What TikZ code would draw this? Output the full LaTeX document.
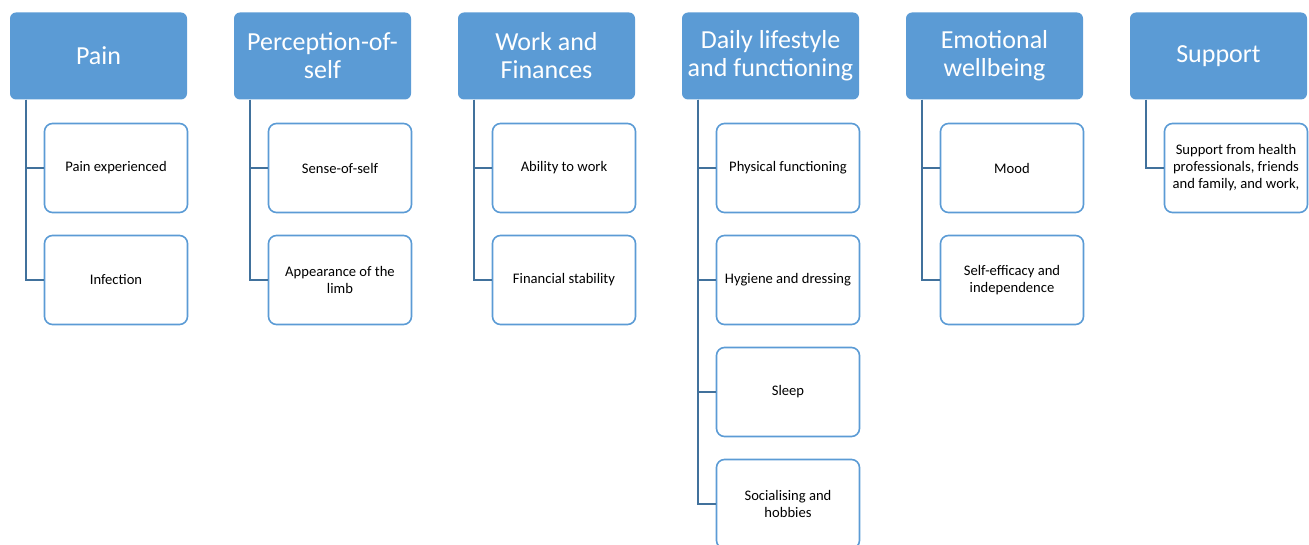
\documentclass[tikz,border=0pt]{standalone}
\usepackage{fontspec}
\setmainfont{Carlito}
\usetikzlibrary{positioning,calc}
\definecolor{hdrblue}{RGB}{91,155,213}
\definecolor{linkblue}{RGB}{65,113,156}

\begin{document}
\begin{tikzpicture}[x=1pt,y=-1pt,
    theme/.style={rectangle, rounded corners=6pt, fill=hdrblue, text=white, minimum width=177pt, minimum height=87pt, align=center, inner sep=0pt, font=\fontsize{26}{28}\selectfont},
    subtheme/.style={rectangle, rounded corners=8pt, draw=hdrblue, line width=1.6pt, fill=white, minimum width=143pt, minimum height=89pt, align=center, inner sep=2pt, font=\fontsize{14.6}{17}\selectfont},
    link/.style={draw=linkblue, line width=1.5pt}]
    \useasboundingbox (0,0) rectangle (1309,545);

    % Themes
    \node[theme] (pain) at (98.5,56) {Pain};
    \node[theme] (perc) at (322.5,56) {Perception-of-\\self};
    \node[theme] (work) at (546.5,56) {Work and\\Finances};
    \node[theme] (daily) at (770.5,56) {Daily lifestyle\\and functioning};
    \node[theme] (emo) at (994.5,56) {Emotional\\wellbeing};
    \node[theme] (supp) at (1218.5,56) {Support};

    % Subthemes
    \node[subtheme] (pain1) at (116,168) {Pain experienced};
    \node[subtheme] (pain2) at (116,280) {Infection};
    \node[subtheme] (perc1) at (340,168) {Sense-of-self};
    \node[subtheme] (perc2) at (340,280) {Appearance of the\\limb};
    \node[subtheme] (work1) at (564,168) {Ability to work};
    \node[subtheme] (work2) at (564,280) {Financial stability};
    \node[subtheme] (daily1) at (788,168) {Physical functioning};
    \node[subtheme] (daily2) at (788,280) {Hygiene and dressing};
    \node[subtheme] (daily3) at (788,392) {Sleep};
    \node[subtheme] (daily4) at (788,504) {Socialising and\\hobbies};
    \node[subtheme] (emo1) at (1012,168) {Mood};
    \node[subtheme] (emo2) at (1012,280) {Self-efficacy and\\independence};
    \node[subtheme] (supp1) at (1236,168) {Support from health\\professionals, friends\\and family, and work,};

    % Links
    \foreach \t/\s in {pain/pain1, pain/pain2, perc/perc1, perc/perc2, work/work1, work/work2,
        daily/daily1, daily/daily2, daily/daily3, daily/daily4, emo/emo1, emo/emo2, supp/supp1}
        \draw[link] ($(\t.south west)+(16,0)$) |- (\s.west);
\end{tikzpicture}
\end{document}
